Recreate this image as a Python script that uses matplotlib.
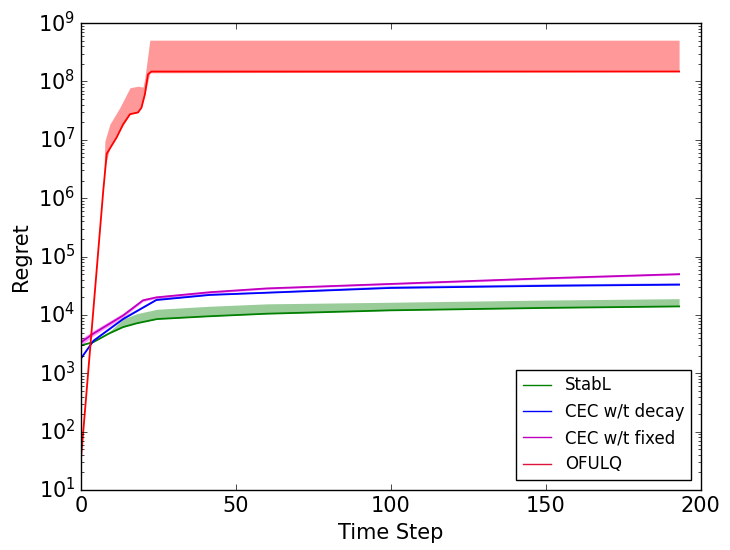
import matplotlib
matplotlib.use('Agg')
import matplotlib.pyplot as plt
import numpy as np

# values (log y axis)
t_stabl = [0, 4, 9, 13.6, 18, 24.5, 41.5, 60, 100, 150, 193]
stabl = [3000, 3430, 4800, 6200, 7200, 8500, 9500, 10500, 12000, 13200, 14000]
stabl_hi = [3000, 3500, 5100, 8500, 10500, 12500, 14100, 15500, 16500, 18000, 19000]

t_cec = [0, 4, 13.6, 24.3, 41.5, 60, 100, 150, 193]
cec_decay = [1800, 3600, 8500, 18000, 22000, 24000, 29000, 31500, 33000]
cec_decay_hi = [2000, 3900, 9300, 19500, 23500, 25500, 31500, 34000, 35500]

t_fixed = [0, 4, 13.6, 20, 24.3, 41.5, 60, 100, 150, 193]
cec_fixed = [3400, 4800, 9800, 17800, 20000, 24500, 28500, 34000, 42500, 50000]
cec_fixed_lo = [3000, 4400, 9200, 17000, 19200, 23500, 27500, 33000, 41000, 48500]
cec_fixed_hi = [3900, 5400, 10800, 19000, 21000, 25500, 29500, 35500, 44000, 52000]

t_oful = [0, 7.2, 8.3, 11.5, 13.6, 15.8, 18.4, 19.5, 20.6, 21.6, 22.7, 193]
oful = [35, 1.4e6, 5.8e6, 1.1e7, 1.85e7, 2.75e7, 2.95e7, 3.55e7, 6e7, 1.32e8, 1.48e8, 1.48e8]
t_oful_hi = [0, 7.2, 7.7, 9.3, 12.5, 15.8, 18.4, 20, 20.6, 22.2, 193]
oful_hi = [35, 1.4e6, 9.5e6, 1.85e7, 3.55e7, 7.8e7, 8.3e7, 8e7, 1.15e8, 5.1e8, 5.1e8]

plt.style.use('classic')
fig = plt.figure(figsize=(7.3, 5.5), dpi=100, facecolor='white')
ax = fig.add_axes([0.111, 0.109, 0.849, 0.849])

ax.fill_between(t_stabl, stabl, stabl_hi, color='green', alpha=0.4, linewidth=0)
ax.fill_between(t_cec, cec_decay, cec_decay_hi, color='blue', alpha=0.4, linewidth=0)
ax.fill_between(t_fixed, cec_fixed_lo, cec_fixed_hi, color='magenta', alpha=0.4, linewidth=0)
ax.fill_between(t_oful_hi, np.interp(t_oful_hi, t_oful, oful), oful_hi,
                color='red', alpha=0.4, linewidth=0)

lw = 1.3
ax.plot(t_stabl, stabl, color='green', lw=lw, label='StabL')
ax.plot(t_cec, cec_decay, color='blue', lw=lw, label='CEC w/t decay')
ax.plot(t_fixed, cec_fixed, color='m', lw=lw, label='CEC w/t fixed')
ax.plot(t_oful, oful, color='red', lw=lw, label='OFULQ')

ax.set_yscale('log')
ax.set_xlim(0, 200)
ax.set_ylim(1e1, 1e9)
ax.set_xticks([0, 50, 100, 150, 200])
ax.tick_params(labelsize=15)
ax.set_xlabel('Time Step', fontsize=15)
ax.set_ylabel('Regret', fontsize=15)

leg = ax.legend(loc='lower right', fontsize=12, handlelength=1.7, numpoints=1,
                borderaxespad=0.6)
for h in leg.get_lines():
    h.set_linewidth(1.0)
leg.get_lines()[3].set_color('crimson')

fig.savefig('out.png', dpi=100, facecolor='white')
